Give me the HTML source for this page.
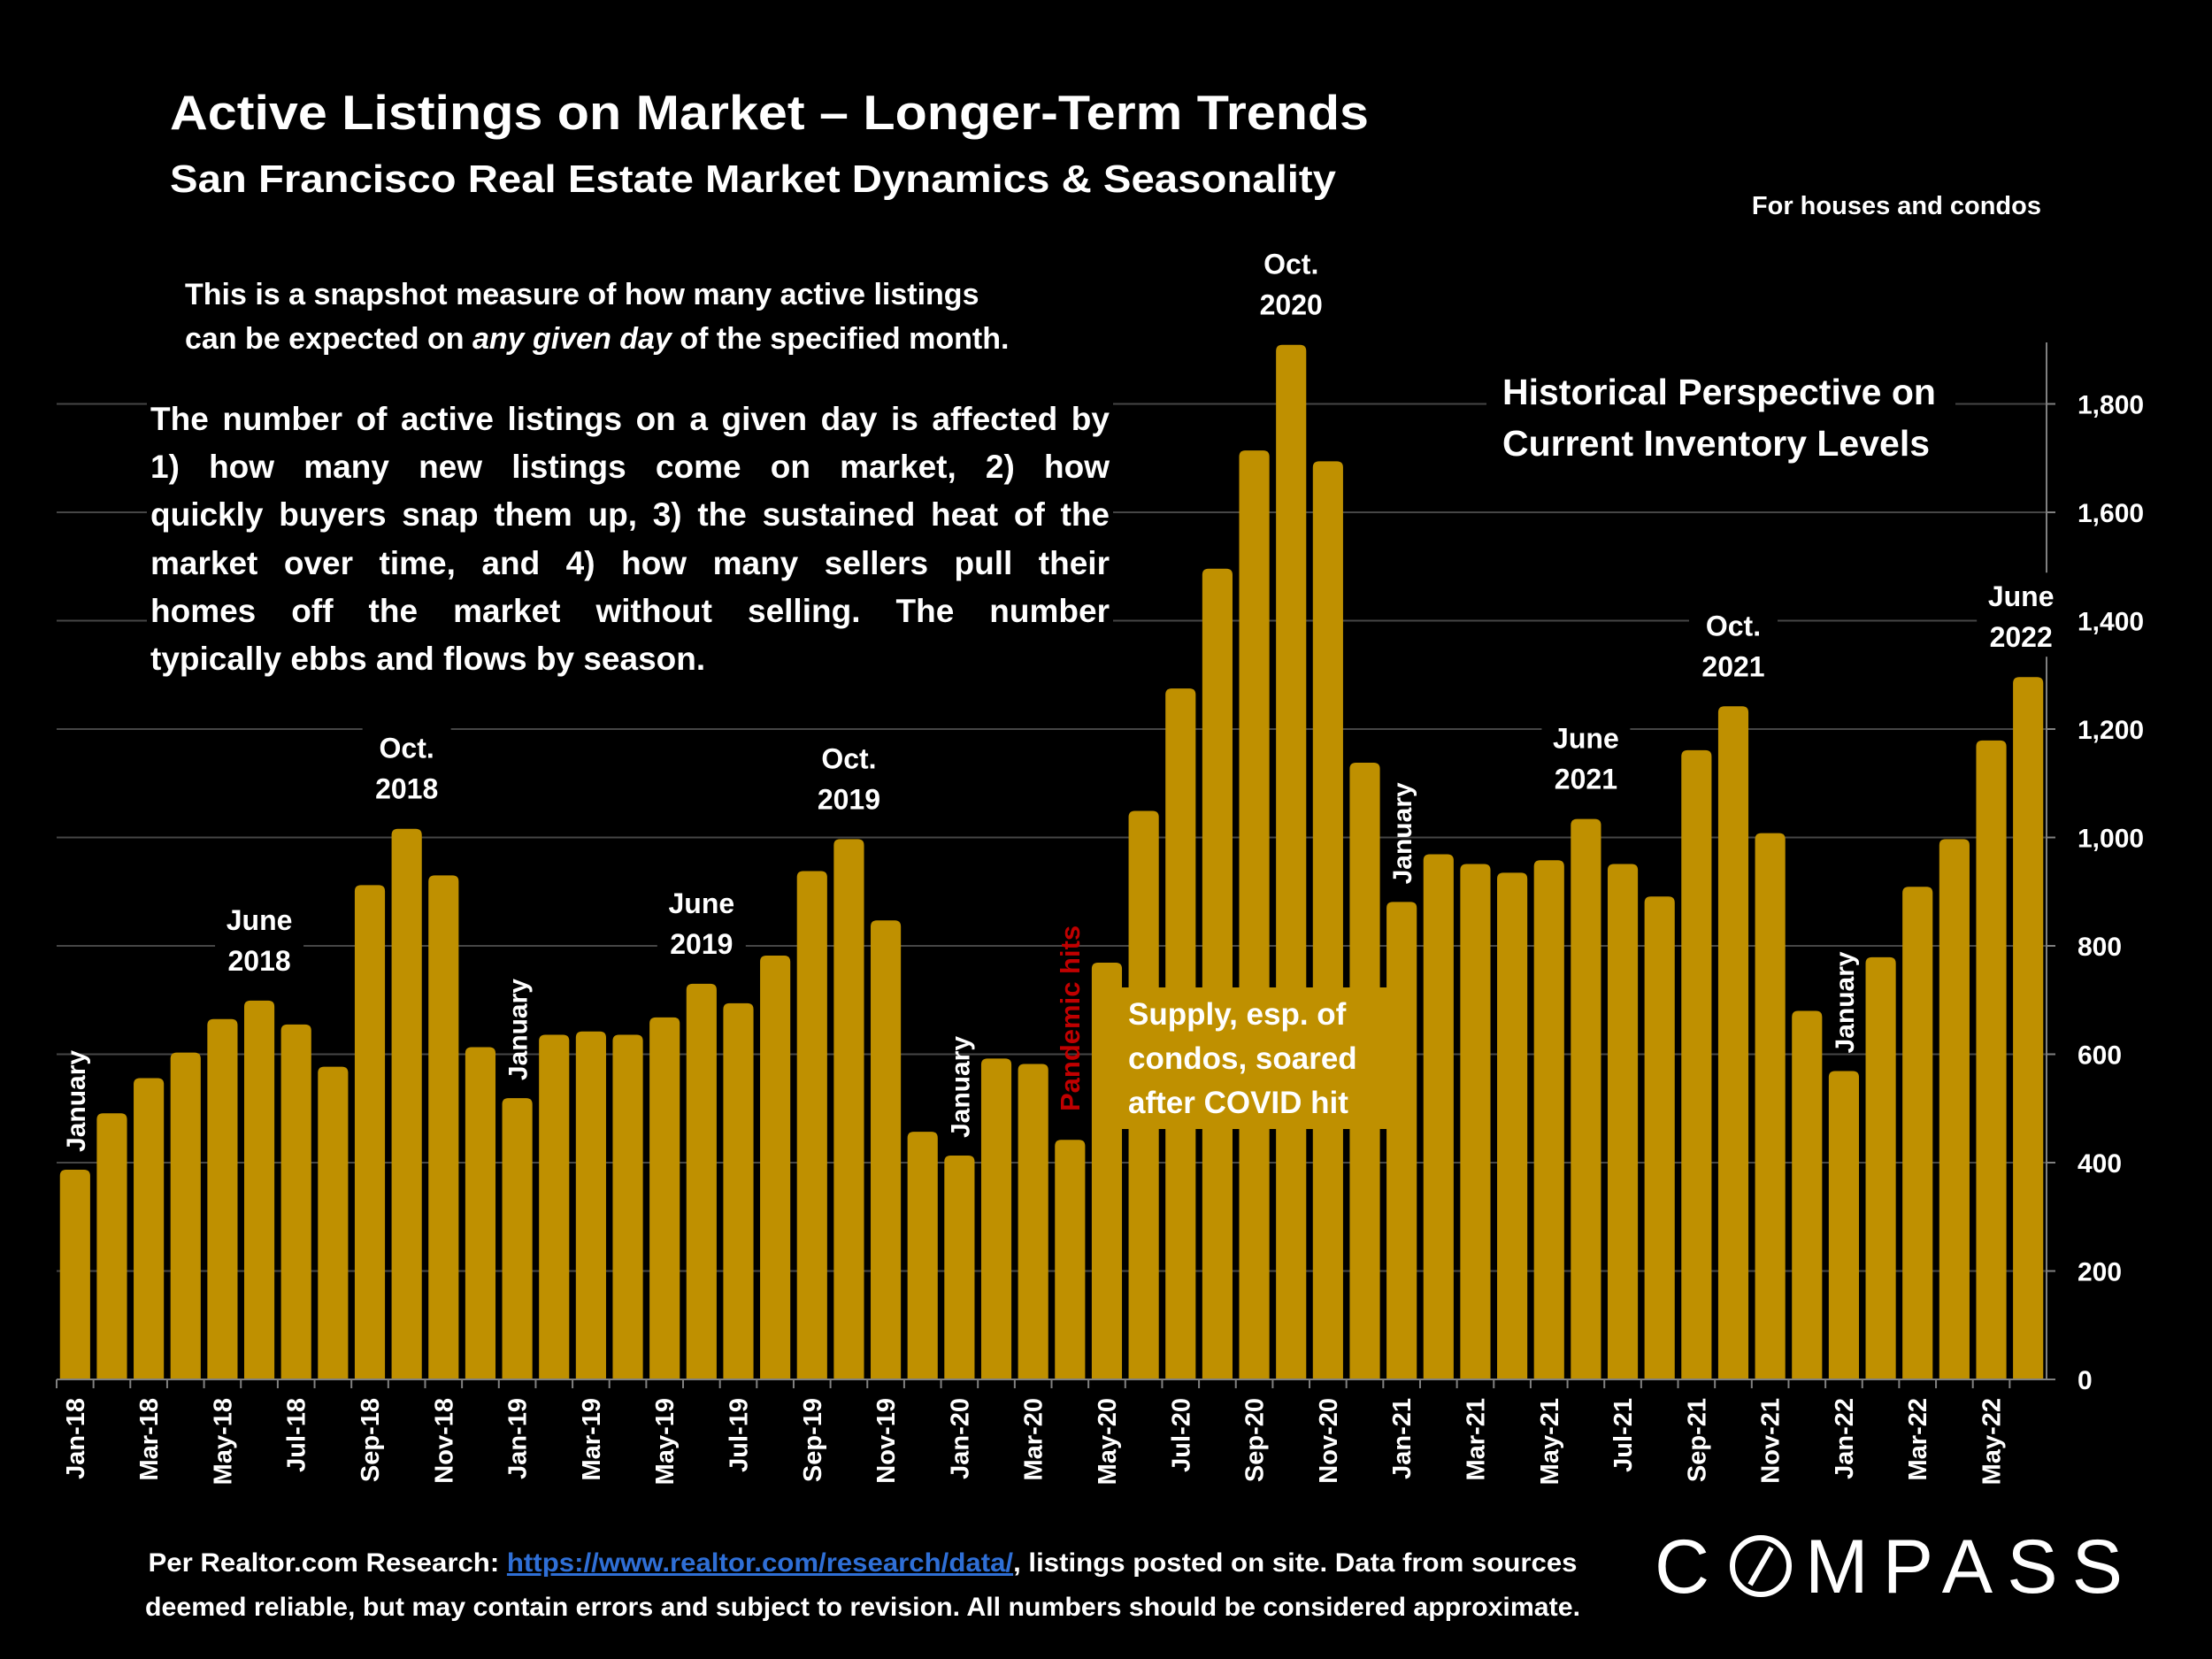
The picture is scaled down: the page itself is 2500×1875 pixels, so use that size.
<!DOCTYPE html>
<html><head><meta charset="utf-8"><style>
html,body{margin:0;padding:0;background:#000;}
#wrap{position:relative;width:2500px;height:1875px;background:#000;overflow:hidden;font-family:"Liberation Sans",sans-serif;color:#fff;font-weight:bold;}
svg{position:absolute;left:0;top:0;}
.para{position:absolute;left:166px;top:447px;width:1084px;font-size:37px;line-height:54.2px;background:#000;padding:0 4px;}
.para div{text-align:justify;text-align-last:justify;white-space:nowrap;}
.para div.last{text-align-last:left;}
</style></head><body>
<div id="wrap">
<svg id="chart" width="2500" height="1875" viewBox="0 0 2500 1875">
  <g id="grid"></g>
  <g id="bars"></g>
  <g id="axes"></g>
  <g id="xlabels"></g>
  <g id="ylabels"></g>
</svg>
<svg width="2500" height="1875" viewBox="0 0 2500 1875" style="pointer-events:none">
  <g font-family="Liberation Sans, sans-serif" font-weight="bold" fill="#fff">
    <text x="192" y="146" font-size="55" textLength="1355" lengthAdjust="spacingAndGlyphs">Active Listings on Market – Longer-Term Trends</text>
    <text x="192" y="217" font-size="44" textLength="1318" lengthAdjust="spacingAndGlyphs">San Francisco Real Estate Market Dynamics &amp; Seasonality</text>
    <text x="2307" y="242" font-size="29" text-anchor="end">For houses and condos</text>
    <rect x="195" y="300" width="1040" height="110" fill="#000"/>
    <text x="209" y="344" font-size="34">This is a snapshot measure of how many active listings</text>
    <text x="209" y="394" font-size="34">can be expected on <tspan font-style="italic">any given day</tspan> of the specified month.</text>
    <rect x="1680" y="410" width="530" height="120" fill="#000"/>
    <text x="1698" y="457" font-size="41">Historical Perspective on</text>
    <text x="1698" y="515" font-size="41">Current Inventory Levels</text>
  </g>
  <g id="peaks" font-family="Liberation Sans, sans-serif" font-weight="bold" fill="#fff" font-size="32" text-anchor="middle"></g>
  <g id="jans" font-family="Liberation Sans, sans-serif" font-weight="bold" fill="#fff" font-size="30"></g>
  <text transform="translate(1220,1256) rotate(-90)" font-family="Liberation Sans, sans-serif" font-weight="bold" font-size="31" fill="#c00000">Pandemic hits</text>
  <rect x="1254" y="1116" width="316" height="160" fill="#bf9000"/>
  <g font-family="Liberation Sans, sans-serif" font-weight="bold" fill="#fff" font-size="35">
    <text x="1275" y="1158">Supply, esp. of</text>
    <text x="1275" y="1208">condos, soared</text>
    <text x="1275" y="1258">after COVID hit</text>
  </g>
  <g font-family="Liberation Sans, sans-serif" font-weight="bold" fill="#fff" font-size="30" text-anchor="middle">
    <text x="975" y="1776" textLength="1615" lengthAdjust="spacingAndGlyphs">Per Realtor.com Research:  <tspan fill="#2f6fd6" text-decoration="underline">https://www.realtor.com/research/data/</tspan>, listings posted on site. Data from sources</text>
    <text x="975" y="1826" textLength="1622" lengthAdjust="spacingAndGlyphs">deemed reliable, but may contain errors and subject to revision. All numbers should be considered approximate.</text>
  </g>
  <g font-family="Liberation Sans, sans-serif" font-weight="normal" fill="#fff">
    <text x="1870" y="1800" font-size="86" font-weight="normal">C</text>
    <circle cx="1990" cy="1770" r="32" fill="none" stroke="#fff" stroke-width="6"/>
    <line x1="1978" y1="1791" x2="2002" y2="1749" stroke="#fff" stroke-width="6"/>
    <text x="2040" y="1800" font-size="86" font-weight="normal" textLength="359" lengthAdjust="spacing">MPASS</text>
  </g>
</svg>
<div class="para">
<div>The number of active listings on a given day is affected by</div>
<div>1) how many new listings come on market, 2) how</div>
<div>quickly buyers snap them up, 3) the sustained heat of the</div>
<div>market over time, and 4) how many sellers pull their</div>
<div>homes off the market without selling. The number</div>
<div class="last">typically ebbs and flows by season.</div>
</div>
</div>
<script>
const months = ["Jan-18","Feb-18","Mar-18","Apr-18","May-18","Jun-18","Jul-18","Aug-18","Sep-18","Oct-18","Nov-18","Dec-18",
"Jan-19","Feb-19","Mar-19","Apr-19","May-19","Jun-19","Jul-19","Aug-19","Sep-19","Oct-19","Nov-19","Dec-19",
"Jan-20","Feb-20","Mar-20","Apr-20","May-20","Jun-20","Jul-20","Aug-20","Sep-20","Oct-20","Nov-20","Dec-20",
"Jan-21","Feb-21","Mar-21","Apr-21","May-21","Jun-21","Jul-21","Aug-21","Sep-21","Oct-21","Nov-21","Dec-21",
"Jan-22","Feb-22","Mar-22","Apr-22","May-22","Jun-22"];
const listings = [387,491,556,603,665,699,655,577,912,1016,930,613,
519,636,642,636,668,730,694,782,938,997,847,457,
413,592,582,442,769,1049,1275,1496,1714,1909,1694,1138,
881,969,951,935,958,1034,951,891,1161,1242,1008,680,
569,779,909,997,1179,1296];
const yTicks = [0,200,400,600,800,1000,1200,1400,1600,1800];
const peakLabels = [["Jun-18","June","2018"],["Oct-18","Oct.","2018"],["Jun-19","June","2019"],["Oct-19","Oct.","2019"],["Oct-20","Oct.","2020"],["Jun-21","June","2021"],["Oct-21","Oct.","2021"],["Jun-22","June","2022"]];
const janLabels = ["Jan-18","Jan-19","Jan-20","Jan-21","Jan-22"];

const NS="http://www.w3.org/2000/svg";
const X0=64, X1=2313, Y0=1559, YPX=122.5/200;
const band=(X1-X0)/months.length, bw=band*0.82;
const xC=i=>X0+band*(i+0.5);
const yS=v=>Y0-v*YPX;
function mk(tag,attrs,parent){const e=document.createElementNS(NS,tag);for(const k in attrs)e.setAttribute(k,attrs[k]);parent.appendChild(e);return e;}
const grid=document.getElementById('grid'),bars=document.getElementById('bars'),axes=document.getElementById('axes'),xl=document.getElementById('xlabels'),yl=document.getElementById('ylabels');
yTicks.forEach(t=>{
  if(t>0){const g=mk('line',{x1:X0,x2:X1,y1:yS(t),y2:yS(t),stroke:'#464646','stroke-width':2},grid);
  
  }
  const tk=mk('line',{x1:X1,x2:X1+10,y1:yS(t),y2:yS(t),stroke:'#808080','stroke-width':2},axes);
  
  
  const tx=mk('text',{x:2348,y:yS(t)+11,'font-size':30,'font-family':'Liberation Sans, sans-serif','font-weight':'bold',fill:'#fff'},yl);
  tx.textContent=t.toLocaleString('en-US');
  
  
});
listings.forEach((v,i)=>{
  const x=xC(i)-bw/2,y=yS(v),h=Y0-y,r=7;
  const p=mk('path',{d:`M${x},${Y0}V${y+r}Q${x},${y} ${x+r},${y}H${x+bw-r}Q${x+bw},${y} ${x+bw},${y+r}V${Y0}Z`,fill:'#bf9000'},bars);
  
  
  if(i%2===0){
    const t=mk('text',{transform:`translate(${xC(i)+10},1580) rotate(-90)`,'text-anchor':'end','font-size':29,'font-family':'Liberation Sans, sans-serif','font-weight':'bold',fill:'#fff'},xl);
    t.textContent=months[i];
    
    
  }
  const tk=mk('line',{x1:X0+band*i,x2:X0+band*i,y1:Y0,y2:Y0+10,stroke:'#808080','stroke-width':2},axes);
  
  
});
const ax=mk('line',{x1:X0,x2:X1,y1:Y0,y2:Y0,stroke:'#808080','stroke-width':2},axes);


const ay=mk('line',{x1:X1,x2:X1,y1:387,y2:Y0,stroke:'#808080','stroke-width':2},axes);


const pk=document.getElementById('peaks');
peakLabels.forEach(([m,a,b])=>{
  const i=months.indexOf(m),y=yS(listings[i]);
  let cx=xC(i); if(m==="Jun-22") cx-=8;
  const g=mk('g',{},pk);
  
  
  mk('rect',{x:cx-50,y:y-118,width:100,height:95,fill:'#000'},g);
  const t1=mk('text',{x:cx,y:y-80},g);t1.textContent=a;
  const t2=mk('text',{x:cx,y:y-34},g);t2.textContent=b;
});
const jn=document.getElementById('jans');
janLabels.forEach(m=>{
  const i=months.indexOf(m),y=yS(listings[i]);
  const t=mk('text',{transform:`translate(${xC(i)+11},${y-20}) rotate(-90)`},jn);
  t.textContent='January';
  
  
});
</script>
</body></html>
